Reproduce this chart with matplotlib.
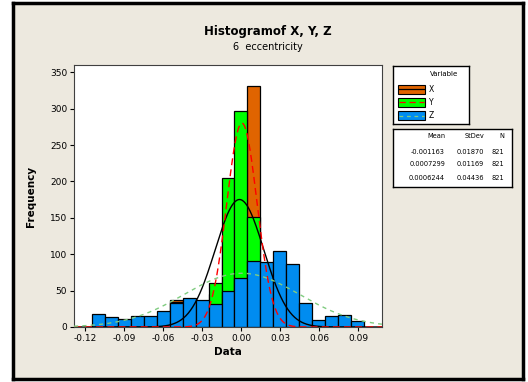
import matplotlib
matplotlib.use("Agg")
import matplotlib.pyplot as plt
import numpy as np
from matplotlib.patches import Rectangle

# bin centres (width 0.01) and counts
bin_centers = [-0.11, -0.10, -0.09, -0.08, -0.07, -0.06, -0.05, -0.04, -0.03, -0.02, -0.01,
               0.00, 0.01, 0.02, 0.03, 0.04, 0.05, 0.06, 0.07, 0.08, 0.09]
x_counts = [0, 0, 0, 0, 0, 5, 37, 25, 30, 45, 120, 150, 331, 60, 15, 3, 0, 0, 0, 0, 0]
y_counts = [0, 0, 0, 0, 0, 3, 35, 20, 25, 60, 205, 297, 151, 20, 5, 0, 0, 0, 0, 0, 0]
z_counts = [18, 14, 11, 15, 15, 22, 33, 40, 37, 32, 49, 68, 91, 89, 104, 86, 33, 9, 15, 16, 8]

variables = ["X", "Y", "Z"]
means = [-0.001163, 0.0007299, 0.0006244]
stdevs = [0.01870, 0.01169, 0.04436]
n_obs = [821, 821, 821]
mean_labels = ["-0.001163", "0.0007299", "0.0006244"]
stdev_labels = ["0.01870", "0.01169", "0.04436"]

x_ticks = [-0.12, -0.09, -0.06, -0.03, 0.00, 0.03, 0.06, 0.09]
y_ticks = [0, 50, 100, 150, 200, 250, 300, 350]

bar_colors = ["#E06400", "#00FF00", "#008CF0"]
fit_colors = ["black", "#FF0000", "#80CC80"]
fit_styles = ["-", (0, (5, 3)), (0, (3, 3))]
bin_width = 0.01

W, H = 528, 382
fig = plt.figure(figsize=(W / 100, H / 100), dpi=100)
fig.patch.set_facecolor("white")


def px(x0, y0, x1, y1):
    # pixel box (top-left origin) -> figure fraction rect
    return [x0 / W, 1 - y1 / H, (x1 - x0) / W, (y1 - y0) / H]


# beige panel with black frame
bg = fig.add_axes(px(13, 3, 523, 379))
bg.set_facecolor("#EDE9DF")
bg.set_xticks([])
bg.set_yticks([])
for s in bg.spines.values():
    s.set_linewidth(2.5)
    s.set_color("black")

ax = fig.add_axes(px(74, 65, 382, 327))
ax.set_facecolor("white")
for counts, col in zip([x_counts, y_counts, z_counts], bar_colors):
    ax.bar(bin_centers, counts, width=bin_width, color=col, edgecolor="black",
           linewidth=0.9, zorder=2)

xmin, xmax = -0.1285, 0.1085
xs = np.linspace(xmin, xmax, 400)
for m, sd, n, col, ls in zip(means, stdevs, n_obs, fit_colors, fit_styles):
    pdf = n * bin_width * np.exp(-0.5 * ((xs - m) / sd) ** 2) / (sd * np.sqrt(2 * np.pi))
    ax.plot(xs, pdf, color=col, linestyle=ls, linewidth=1.0, zorder=3)

ax.set_xlim(xmin, xmax)
ax.set_ylim(0, 360)
ax.set_xticks(x_ticks)
ax.set_xticklabels([f"{t:.2f}" for t in x_ticks])
ax.set_yticks(y_ticks)
ax.tick_params(labelsize=6.5, length=3, width=0.8, pad=2)
for s in ax.spines.values():
    s.set_linewidth(0.8)
    s.set_color("#404040")
ax.set_xlabel("Data", fontsize=7.5, fontweight="bold", labelpad=3)
ax.set_ylabel("Frequency", fontsize=7.5, fontweight="bold", labelpad=10)

fig.text(268 / W, 1 - 31 / H, "Histogramof X, Y, Z", ha="center", va="center",
         fontsize=8.5, fontweight="bold")
fig.text(268 / W, 1 - 47 / H, "6  eccentricity", ha="center", va="center", fontsize=7)

# legend box
lg = fig.add_axes(px(393, 66, 469, 124))
lg.set_xlim(393, 469)
lg.set_ylim(124, 66)
lg.set_xticks([])
lg.set_yticks([])
for s in lg.spines.values():
    s.set_linewidth(1.0)
lg.text(444, 74.5, "Variable", ha="center", va="center", fontsize=5)
for i, (name, bc, fc, ls) in enumerate(zip(variables, bar_colors, fit_colors, fit_styles)):
    yc = 89 + i * 13.3
    lg.add_patch(Rectangle((398, yc - 4.5), 27, 9, facecolor=bc, edgecolor="black", lw=0.8))
    lg.plot([399, 424], [yc, yc], color=fc, linestyle=ls, lw=0.9)
    lg.text(429, yc, name, ha="left", va="center", fontsize=5.5)

# stats box
st = fig.add_axes(px(393, 129, 512, 187))
st.set_xlim(393, 512)
st.set_ylim(187, 129)
st.set_xticks([])
st.set_yticks([])
for s in st.spines.values():
    s.set_linewidth(1.0)
for x, head in zip([445, 484, 504], ["Mean", "StDev", "N"]):
    st.text(x, 136.5, head, ha="right", va="center", fontsize=4.8)
for i in range(3):
    yr = 151.5 + i * 13
    st.text(445, yr, mean_labels[i], ha="right", va="center", fontsize=4.8)
    st.text(484, yr, stdev_labels[i], ha="right", va="center", fontsize=4.8)
    st.text(504, yr, str(n_obs[i]), ha="right", va="center", fontsize=4.8)

fig.savefig("out.png", dpi=100)
